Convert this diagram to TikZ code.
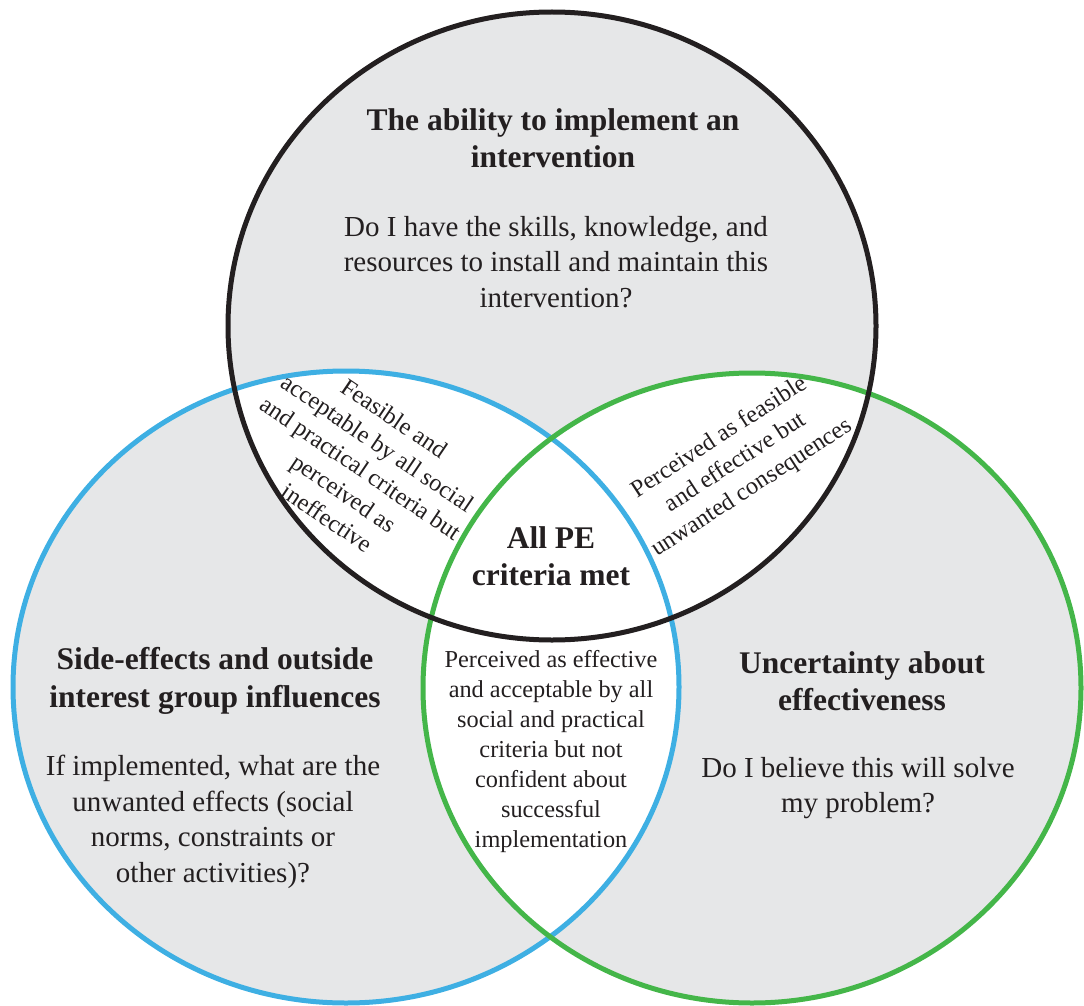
\documentclass[tikz,border=0pt]{standalone}
\usepackage{fontspec}
\setmainfont{Liberation Serif}
\definecolor{cgray}{HTML}{E6E7E8}
\definecolor{cblue}{HTML}{3EAFE3}
\definecolor{cgreen}{HTML}{44B649}
\definecolor{cblack}{HTML}{231F20}
\tikzset{
  ttl/.style={align=center, text=cblack, font=\fontsize{31.5}{37.5}\selectfont\bfseries, inner sep=0pt},
  body/.style={align=center, text=cblack, font=\fontsize{29}{35.5}\selectfont, inner sep=0pt},
  small/.style={align=center, text=cblack, font=\fontsize{24.3}{30}\selectfont, inner sep=0pt},
  ring/.style={line width=5pt}
}
\begin{document}
\begin{tikzpicture}[x=1pt,y=-1pt]
\useasboundingbox (0,0) rectangle (1084,1006);
% gray fills
\fill[cgray] (552,326) ellipse [x radius=324, y radius=314];
\fill[cgray] (346,687) ellipse [x radius=333, y radius=316];
\fill[cgray] (752,688) ellipse [x radius=329, y radius=315];
% white overlaps
\begin{scope}
  \clip (552,326) ellipse [x radius=324, y radius=314];
  \fill[white] (346,687) ellipse [x radius=333, y radius=316];
  \fill[white] (752,688) ellipse [x radius=329, y radius=315];
\end{scope}
\begin{scope}
  \clip (346,687) ellipse [x radius=333, y radius=316];
  \fill[white] (752,688) ellipse [x radius=329, y radius=315];
\end{scope}
% outlines
\draw[ring, cblue] (346,687) ellipse [x radius=333, y radius=316];
\draw[ring, cgreen] (752,688) ellipse [x radius=329, y radius=315];
\draw[ring, cblack] (552,326) ellipse [x radius=324, y radius=314];
% texts
\node[ttl] (toptitle) at (553,138) {The ability to implement an\\intervention};
\node[body] (topbody) at (556,262) {Do I have the skills, knowledge, and\\resources to install and maintain this\\intervention?};
\node[ttl] (lefttitle) at (215,681) {Side-effects and outside\\interest group influences};
\node[body] (leftbody) at (213,822) {If implemented, what are the\\unwanted effects (social\\norms, constraints or\\other activities)?};
\node[ttl] (righttitle) at (862,681) {Uncertainty about\\effectiveness};
\node[body] (rightbody) at (858,788) {Do I believe this will solve\\my problem?};
\node[ttl] (center) at (551,556) {All PE\\criteria met};
\node[small] (lowmid) at (551,752) {Perceived as effective\\and acceptable by all\\social and practical\\criteria but not\\confident about\\successful\\implementation};
\node[small, rotate=-34] (leftmid) at (361,468) {Feasible and\\acceptable by all social\\and practical criteria but\\perceived as\\ineffective};
\node[small, rotate=33] (rightmid) at (736,463) {Perceived as feasible\\and effective but\\unwanted consequences};
\end{tikzpicture}
\end{document}
